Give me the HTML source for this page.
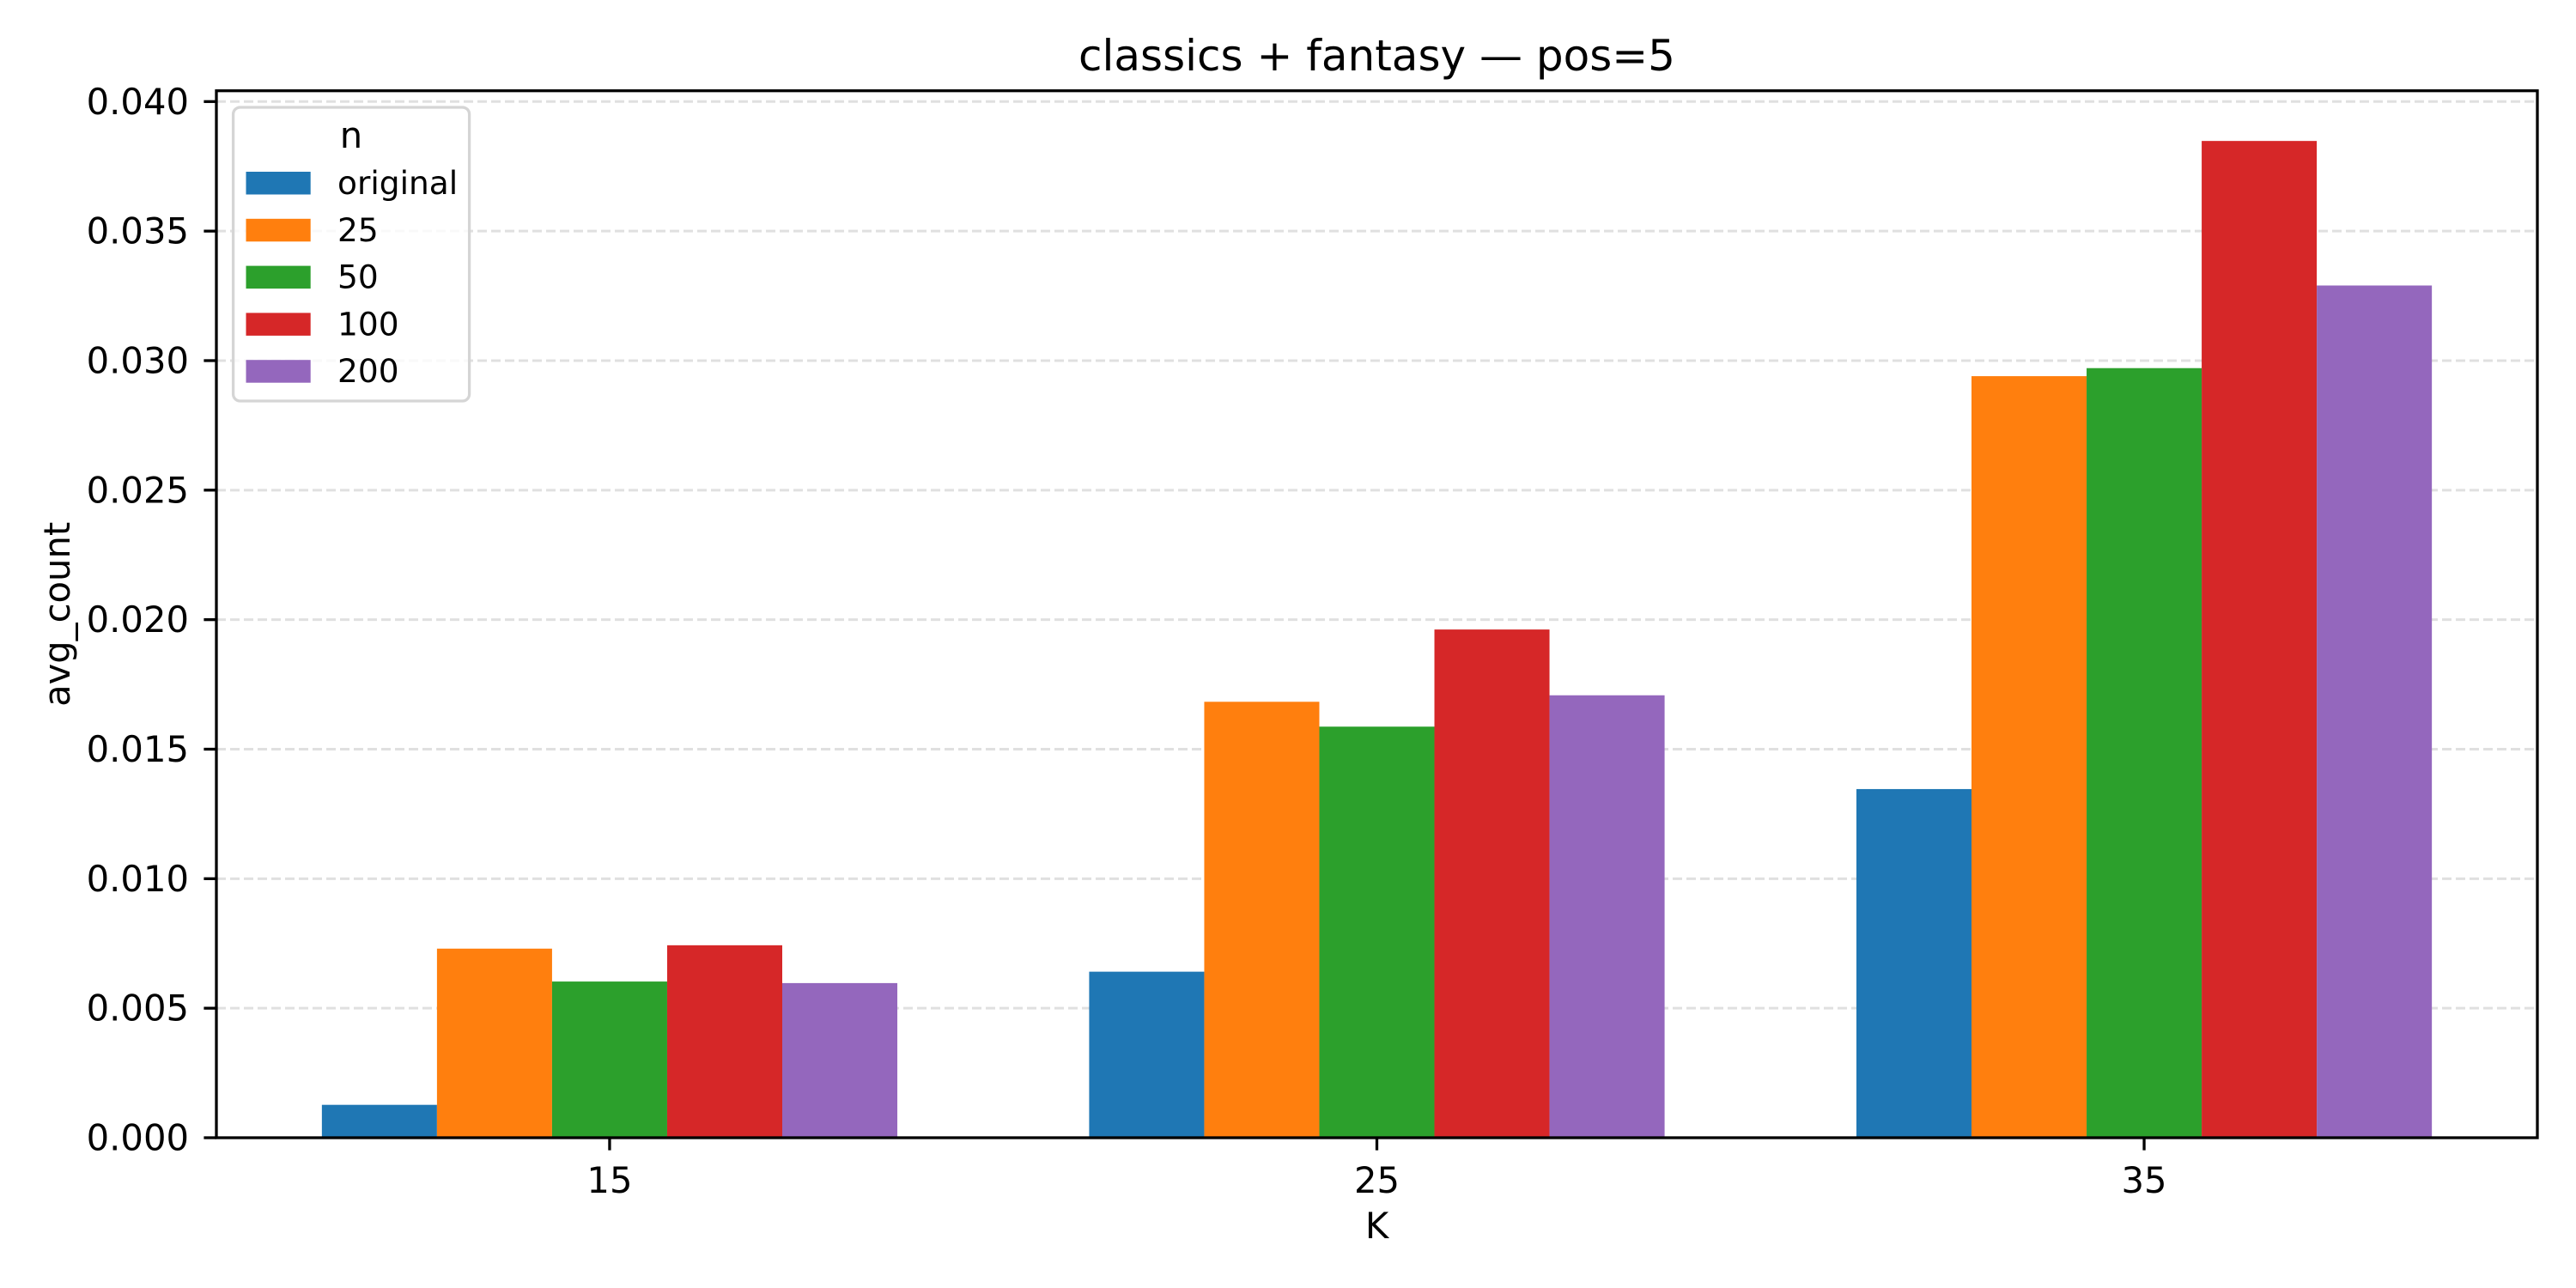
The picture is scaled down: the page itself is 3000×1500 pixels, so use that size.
<!DOCTYPE html>
<html><head><meta charset="utf-8"><style>
html,body{margin:0;padding:0;background:#fff;}
svg{display:block;font-family:"DejaVu Sans","Liberation Sans",sans-serif;}
</style></head><body>
<svg id="chart" width="3000" height="1500" viewBox="0 0 3000 1500" xmlns="http://www.w3.org/2000/svg">
<rect width="3000" height="1500" fill="#fff"/>
<g id="grid"></g><g id="bars"></g><g id="axes"></g><g id="legend"></g>
</svg>
<script>
const categories = ["15", "25", "35"];
const seriesNames = ["original", "25", "50", "100", "200"];
const seriesOriginal = [0.00127, 0.00641, 0.01346];
const series25 = [0.00730, 0.01683, 0.02940];
const series50 = [0.00603, 0.01587, 0.02971];
const series100 = [0.00743, 0.01962, 0.03848];
const series200 = [0.00597, 0.01708, 0.03290];
const yTicks = [0, 0.005, 0.010, 0.015, 0.020, 0.025, 0.030, 0.035, 0.040];
const yTickLabels = ["0.000","0.005","0.010","0.015","0.020","0.025","0.030","0.035","0.040"];
const colors = ["#1f77b4","#ff7f0e","#2ca02c","#d62728","#9467bd"];

const NS="http://www.w3.org/2000/svg";
const L=252,R=2955,T=105.7,B=1325;
const xMin=-0.5125,xMax=2.5125,yMax=(B-118.3)/30.17*0.001;
function xs(v){return L+(v-xMin)/(xMax-xMin)*(R-L);}
function ys(v){return B-v/0.040*(B-118.3);}
function mk(tag,attrs,parent,text){const e=document.createElementNS(NS,tag);for(const k in attrs)e.setAttribute(k,attrs[k]);if(text!==undefined)e.textContent=text;parent.appendChild(e);return e;}
const grid=document.getElementById('grid'),bars=document.getElementById('bars'),axes=document.getElementById('axes'),legend=document.getElementById('legend');
const allSeries=[seriesOriginal,series25,series50,series100,series200];
const bw=0.15;
yTicks.forEach((t,i)=>{
  const y=ys(t);
  if(i>0){const g=mk('line',{x1:L,x2:R,y1:y,y2:y,stroke:'#e0e0e0','stroke-width':3,'stroke-dasharray':'11 5'},grid);
  
  }
  const tk=mk('line',{x1:L-14.6,x2:L,y1:y,y2:y,stroke:'#000','stroke-width':3.3},axes);
  
  
  const tl=mk('text',{x:220,y:y+14.5,'text-anchor':'end','font-size':41.7,fill:'#000'},axes,yTickLabels[i]);
  
  
});
allSeries.forEach((s,si)=>{
  s.forEach((v,ci)=>{
    const c=ci+(si-2)*bw;
    const x0=xs(c-bw/2),x1=xs(c+bw/2);
    const r=mk('rect',{x:x0,y:ys(v),width:x1-x0,height:B-ys(v),fill:colors[si]},bars);
    
    
  });
});
categories.forEach((c,i)=>{
  const x=xs(i);
  const tk=mk('line',{x1:x,x2:x,y1:B,y2:B+14.6,stroke:'#000','stroke-width':3.3},axes);
  
  
  const tl=mk('text',{x:x,y:1389,'text-anchor':'middle','font-size':41.7,fill:'#000'},axes,c);
  
  
});
const sp=mk('rect',{x:L,y:T,width:R-L,height:B-T,fill:'none',stroke:'#000','stroke-width':3.3},axes);


const ttl=mk('text',{x:(L+R)/2,y:82,'text-anchor':'middle','font-size':50,fill:'#000'},axes,'classics + fantasy — pos=5');


const xl=mk('text',{x:(L+R)/2,y:1442,'text-anchor':'middle','font-size':41.7,fill:'#000'},axes,'K');


const yl=mk('text',{x:0,y:0,'text-anchor':'middle','font-size':41.7,fill:'#000',transform:'translate(81,'+((T+B)/2)+') rotate(-90)'},axes,'avg_count');


const lb=mk('rect',{x:271.6,y:125,width:275,height:342,rx:8,fill:'#fff','fill-opacity':0.8,stroke:'#d5d5d5','stroke-width':3.3},legend);


const lt=mk('text',{x:409,y:172,'text-anchor':'middle','font-size':41.7,fill:'#000'},legend,'n');


seriesNames.forEach((n,i)=>{
  const y=200+i*54.8;
  const p=mk('rect',{x:286.5,y:y,width:75.2,height:26.5,fill:colors[i]},legend);
  
  
  const t=mk('text',{x:393,y:y+26,'font-size':37.5,fill:'#000'},legend,n);
  
  
});
</script>
</body></html>
